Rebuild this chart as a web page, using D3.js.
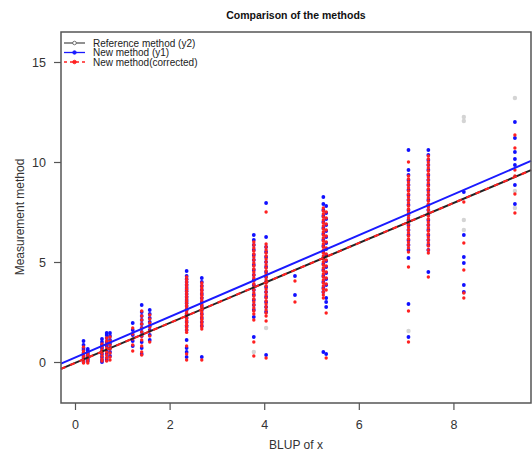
<!DOCTYPE html>
<html>
<head>
<meta charset="utf-8">
<script src="https://cdn.jsdelivr.net/npm/d3@7"></script>
<style>
  body { margin: 0; background: #fff; }
  svg { display: block; font-family: "Liberation Sans", Arial, sans-serif; }
</style>
</head>
<body>
<svg id="svg" width="532" height="454"></svg>
<script>
//Data
const COL_X = [0.18, 0.27, 0.57, 0.67, 0.74, 1.22, 1.41, 1.58, 2.36, 2.68, 3.78, 4.04, 4.65, 5.25, 5.31, 7.05, 7.47, 8.22, 9.30];

// New method (y1), blue
const Y1_COLS = [
    [1.05, 0.85, 0.7, 0.6, 0.45, 0.3, 0.2, 0.1, 0.0],
    [0.65, 0.55, 0.45, 0.35, 0.25, 0.15, 0.05],
    [1.15, 1.0, 0.85, 0.7, 0.55, 0.4, 0.25, 0.1, 0.0],
    [1.45, 1.35, 1.2, 1.0, 0.8, 0.6, 0.4, 0.2, 0.1],
    [1.45, 1.3, 1.1, 0.9, 0.7, 0.5, 0.3],
    [1.95, 1.6, 1.35, 1.05, 0.8],
    [2.85, 2.5, 2.3, 2.1, 1.9, 1.7, 1.5, 1.3, 1.0, 0.7, 0.4],
    [2.6, 2.4, 2.2, 2.0, 1.8, 1.6, 1.35, 1.1],
    [4.55, 4.3, 4.15, 4.0, 3.85, 3.7, 3.55, 3.4, 3.25, 3.1, 2.95, 2.8, 2.6, 2.4, 2.2, 2.0, 1.8, 1.6, 1.1, 0.7, 0.5, 0.25],
    [4.2, 4.0, 3.8, 3.6, 3.4, 3.2, 3.0, 2.8, 2.6, 2.4, 2.2, 2.0, 1.8, 0.25],
    [6.35, 6.1, 5.85, 5.6, 5.35, 5.1, 4.85, 4.6, 4.35, 4.1, 3.85, 3.6, 3.35, 3.1, 2.85, 2.6, 2.25, 1.25],
    [7.95, 6.25, 5.75, 5.5, 5.25, 5.0, 4.75, 4.5, 4.25, 4.0, 3.75, 3.5, 3.25, 3.0, 2.75, 2.5, 0.35],
    [4.3, 3.35],
    [8.25, 7.9, 7.6, 7.3, 7.0, 6.7, 6.4, 6.1, 5.8, 5.5, 5.2, 4.9, 4.6, 4.3, 4.0, 3.7, 3.5, 0.5],
    [7.8, 7.45, 7.15, 6.85, 6.55, 6.25, 5.95, 5.65, 5.35, 5.05, 4.75, 4.45, 4.15, 3.85, 3.2, 3.0, 2.75, 0.4],
    [10.6, 9.6, 9.35, 9.1, 8.85, 8.6, 8.35, 8.1, 7.85, 7.6, 7.35, 7.1, 6.85, 6.6, 6.35, 6.1, 5.85, 5.6, 5.2, 2.9, 1.25],
    [10.6, 10.35, 10.1, 9.85, 9.6, 9.35, 9.1, 8.85, 8.6, 8.35, 8.1, 7.85, 7.6, 7.35, 7.1, 6.85, 6.6, 6.35, 6.1, 5.85, 5.6, 4.5],
    [8.5, 6.35, 5.25, 4.95, 3.85, 3.5],
    [12.0, 11.2, 10.5, 10.15, 9.85, 8.85, 7.9]
];

// New method (corrected), red
const Y1C_COLS = [
    [0.75, 0.55, 0.45, 0.35, 0.25, 0.15, 0.05, -0.05],
    [0.45, 0.35, 0.25, 0.15, 0.05, -0.05],
    [0.9, 0.75, 0.6, 0.45, 0.3, 0.15, 0.05],
    [1.2, 1.05, 0.9, 0.7, 0.5, 0.35, 0.2, 0.05],
    [1.25, 1.05, 0.85, 0.65, 0.45, 0.25, 0.1],
    [1.7, 1.4, 1.15, 0.85, 0.55],
    [2.55, 2.3, 2.1, 1.9, 1.7, 1.5, 1.3, 1.1, 0.8, 0.5, 0.35],
    [2.35, 2.15, 1.95, 1.75, 1.55, 1.3, 1.0],
    [4.25, 4.12, 4.0, 3.88, 3.76, 3.64, 3.52, 3.4, 3.28, 3.16, 3.04, 2.92, 2.8, 2.68, 2.56, 2.44, 2.32, 2.2, 2.08, 1.96, 1.84, 1.72, 1.6, 1.48, 0.8, 0.4, 0.1],
    [3.95, 3.82, 3.7, 3.58, 3.46, 3.34, 3.22, 3.1, 2.98, 2.86, 2.74, 2.62, 2.5, 2.38, 2.26, 2.14, 2.02, 1.9, 1.78, 1.65, 0.1],
    [6.0, 5.85, 5.7, 5.55, 5.4, 5.25, 5.1, 4.95, 4.8, 4.65, 4.5, 4.35, 4.2, 4.05, 3.9, 3.75, 3.6, 3.45, 3.3, 3.15, 3.0, 2.85, 2.7, 2.55, 2.4, 2.1, 1.0, 0.3],
    [7.5, 5.9, 5.75, 5.6, 5.45, 5.3, 5.15, 5.0, 4.85, 4.7, 4.55, 4.4, 4.25, 4.1, 3.95, 3.8, 3.65, 3.5, 3.35, 3.2, 3.05, 2.9, 2.75, 2.6, 2.45, 2.3, 2.05, 0.2],
    [4.05, 3.0],
    [7.7, 7.55, 7.4, 7.25, 7.1, 6.95, 6.8, 6.65, 6.5, 6.35, 6.2, 6.05, 5.9, 5.75, 5.6, 5.45, 5.3, 5.15, 5.0, 4.85, 4.7, 4.55, 4.4, 4.25, 4.1, 3.95, 3.8, 3.65, 3.5, 3.35, 3.2],
    [7.5, 7.2, 6.9, 6.6, 6.3, 6.0, 5.7, 5.4, 5.1, 4.8, 4.5, 4.2, 3.9, 3.6, 2.45, 0.2],
    [10.0, 9.3, 9.15, 9.0, 8.85, 8.7, 8.55, 8.4, 8.25, 8.1, 7.95, 7.8, 7.65, 7.5, 7.35, 7.2, 7.05, 6.9, 6.75, 6.6, 6.45, 6.3, 6.15, 6.0, 5.85, 5.7, 5.5, 4.75, 2.55, 1.0],
    [10.3, 10.15, 10.0, 9.85, 9.7, 9.55, 9.4, 9.25, 9.1, 8.95, 8.8, 8.65, 8.5, 8.35, 8.2, 8.05, 7.9, 7.75, 7.6, 7.45, 7.3, 7.15, 7.0, 6.85, 6.7, 6.55, 6.4, 6.25, 6.1, 5.95, 5.8, 5.6, 5.45, 4.25],
    [8.0, 5.95, 4.6, 3.45, 3.2],
    [11.35, 10.7, 9.6, 9.3, 8.4, 7.45]
];

// Reference method (y2), grey - only the ones that show
const Y2_COLS = [
    [], [], [], [], [], [], [], [], [], [],
    [0.5],
    [1.7],
    [], [], [],
    [1.55],
    [],
    [12.25, 12.05, 7.1, 6.6],
    [13.2, 8.55, 7.7]
];

// fitted lines [intercept, slope]
const FIT_Y1 = [0.22, 1.02];
const FIT_Y2 = [-0.05, 1.0];
const FIT_Y1C = [-0.05, 1.0];

const X_TICKS = [0, 2, 4, 6, 8];
const Y_TICKS = [0, 5, 10, 15];
const LEGEND_LABELS = ["Reference method (y2)", "New method (y1)", "New method(corrected)"];

const TITLE = "Comparison of the methods";
const X_LABEL = "BLUP of x";
const Y_LABEL = "Measurement method";

//Layout
const LEFT = 61, TOP = 32, RIGHT = 531, BOTTOM = 403;
const AXIS_COLOR = "#555";

let svg = d3.select("svg");

let x_scale = d3.scaleLinear().domain([-0.296, 9.64]).range([LEFT, RIGHT]);
let y_scale = d3.scaleLinear().domain([-2.05, 16.5]).range([BOTTOM, TOP]);

function flatten(cols)
{
    let out = [];
    cols.forEach((col, i) => col.forEach(v => out.push({ x: COL_X[i], y: v })));
    return out;
}

//Points
svg.append("g")
    .selectAll("circle")
    .data(flatten(Y2_COLS))
    .enter().append("circle")
    .attr("cx", d => x_scale(d.x))
    .attr("cy", d => y_scale(d.y))
    .attr("r", 2.2)
    .attr("fill", "#d4d4d4");

svg.append("g")
    .selectAll("circle")
    .data(flatten(Y1_COLS))
    .enter().append("circle")
    .attr("cx", d => x_scale(d.x))
    .attr("cy", d => y_scale(d.y))
    .attr("r", 1.9)
    .attr("fill", "#1010ff");

svg.append("g")
    .selectAll("circle")
    .data(flatten(Y1C_COLS))
    .enter().append("circle")
    .attr("cx", d => x_scale(d.x))
    .attr("cy", d => y_scale(d.y))
    .attr("r", 1.7)
    .attr("fill", "#ff2020");

//Fit lines
const xd = x_scale.domain();
function fitLine(fit, color, dash)
{
    svg.append("line")
        .attr("x1", x_scale(xd[0])).attr("y1", y_scale(fit[0] + fit[1] * xd[0]))
        .attr("x2", x_scale(xd[1])).attr("y2", y_scale(fit[0] + fit[1] * xd[1]))
        .attr("stroke", color)
        .attr("stroke-width", 2)
        .attr("stroke-dasharray", dash);
}
fitLine(FIT_Y1, "#1a1aff", null);
fitLine(FIT_Y2, "#222", null);
fitLine(FIT_Y1C, "#ff2020", "5,5");

//Box
svg.append("rect")
    .attr("x", LEFT).attr("y", TOP)
    .attr("width", RIGHT - LEFT).attr("height", BOTTOM - TOP)
    .attr("fill", "none")
    .attr("stroke", AXIS_COLOR)
    .attr("stroke-width", 1.5);

//Axes
let x_axis = d3.axisBottom(x_scale).tickValues(X_TICKS).tickSize(7).tickPadding(10);
let y_axis = d3.axisLeft(y_scale).tickValues(Y_TICKS).tickSize(7).tickPadding(8);

let gx = svg.append("g").attr("transform", "translate(0," + BOTTOM + ")").call(x_axis);
let gy = svg.append("g").attr("transform", "translate(" + LEFT + ",0)").call(y_axis);
[gx, gy].forEach(g => {
    g.select(".domain").remove();
    g.selectAll("line").attr("stroke", AXIS_COLOR).attr("stroke-width", 1.2);
    g.selectAll("text")
        .attr("font-family", "Liberation Sans, Arial, sans-serif")
        .attr("font-size", 12.5)
        .attr("fill", "#333");
});

//Labels
svg.append("text")
    .attr("x", 296).attr("y", 19)
    .attr("text-anchor", "middle")
    .attr("font-size", 10.5)
    .attr("font-weight", "bold")
    .attr("fill", "#111")
    .text(TITLE);

svg.append("text")
    .attr("x", 296).attr("y", 449)
    .attr("text-anchor", "middle")
    .attr("font-size", 12)
    .attr("fill", "#333")
    .text(X_LABEL);

svg.append("text")
    .attr("transform", "translate(24,217) rotate(-90)")
    .attr("text-anchor", "middle")
    .attr("font-size", 12)
    .attr("fill", "#333")
    .text(Y_LABEL);

//Legend
const LEG = [
    { color: "#555", dash: null, open: true },
    { color: "#1a1aff", dash: null, open: false },
    { color: "#ff2020", dash: "3,3", open: false }
];
let legend = svg.append("g");
LEGEND_LABELS.forEach((label, i) => {
    let y = 43 + i * 9.5;
    legend.append("line")
        .attr("x1", 64).attr("x2", 85).attr("y1", y).attr("y2", y)
        .attr("stroke", LEG[i].color).attr("stroke-width", 1.3)
        .attr("stroke-dasharray", LEG[i].dash);
    legend.append("circle")
        .attr("cx", 74.5).attr("cy", y).attr("r", 1.8)
        .attr("fill", LEG[i].open ? "#fff" : LEG[i].color)
        .attr("stroke", LEG[i].color).attr("stroke-width", 0.8);
    legend.append("text")
        .attr("x", 93).attr("y", y + 3.5)
        .attr("font-size", 10)
        .attr("fill", "#222")
        .text(label);
});
</script>
</body>
</html>
